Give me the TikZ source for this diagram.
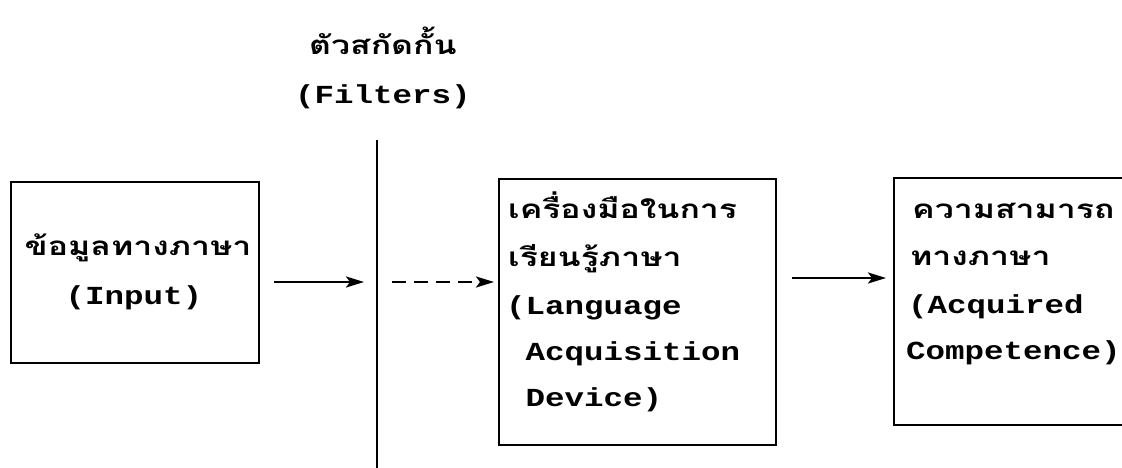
\documentclass[tikz,border=0pt]{standalone}
\usepackage{fontspec}
\newfontfamily\lat[FakeStretch=1.25]{Liberation Mono}
\newfontfamily\thai[Script=Thai,FakeStretch=1.3]{Loma}
\usetikzlibrary{arrows.meta}
\tikzset{
  box/.style={draw, line width=2.2pt, anchor=north west, inner sep=0pt},
  arr/.style={line width=2.5pt, -{Stealth[length=18pt,width=11pt,inset=4pt]}},
  th/.style={anchor=base west, inner sep=0pt, font=\fontsize{26}{30}\selectfont\thai\bfseries},
  la/.style={anchor=base west, inner sep=0pt, font=\fontsize{26}{30}\selectfont\lat\bfseries},
}
\begin{document}
\begin{tikzpicture}[x=1pt,y=-1pt]
\useasboundingbox (0,0) rectangle (1122,468);
\clip (0,0) rectangle (1122,468);
% title
\node[th, anchor=base] (t1) at (383,55) {ตัวสกัดกั้น};
\node[la, anchor=base] (t2) at (383,104) {(Filters)};
% filter line
\coordinate (ftop) at (377,140);
\coordinate (fbot) at (377,468);
\draw[line width=2.5pt] (ftop) -- (fbot);
% boxes
\node[box, minimum width=248pt, minimum height=181pt] (inbox) at (10,181) {};
\node[box, minimum width=277pt, minimum height=266pt] (lad) at (498,178) {};
\node[box, minimum width=260pt, minimum height=247pt] (comp) at (893,177) {};
% texts left
\node[th, anchor=base] (i1) at (138,255) {ข้อมูลทางภาษา};
\node[la, anchor=base] (i2) at (134,304) {(Input)};
% texts mid
\node[th] (m1) at (508,218) {เครื่องมือในการ};
\node[th] (m2) at (508,266) {เรียนรู้ภาษา};
\node[la] (m3) at (506,314) {(Language};
\node[la] (m4) at (506,360) {\ Acquisition};
\node[la] (m5) at (506,406) {\ Device)};
% texts right
\node[th] (c1) at (912,218) {ความสามารถ};
\node[th] (c2) at (910,265) {ทางภาษา};
\node[la] (c3) at (908,313) {(Acquired};
\node[la] (c4) at (906,359) {Competence)};
% arrows
\coordinate (a1) at (377,282);
\draw[arr, shorten <=14pt, shorten >=13pt] (inbox.east |- a1) -- (a1);
\draw[arr, dashed, dash pattern=on 14pt off 8pt, shorten <=15pt, shorten >=4pt] (a1) -- (lad.west |- a1);
\draw[arr, shorten <=15pt, shorten >=7pt] (lad.east |- 0,278) -- (comp.west |- 0,278);
\end{tikzpicture}
\end{document}
